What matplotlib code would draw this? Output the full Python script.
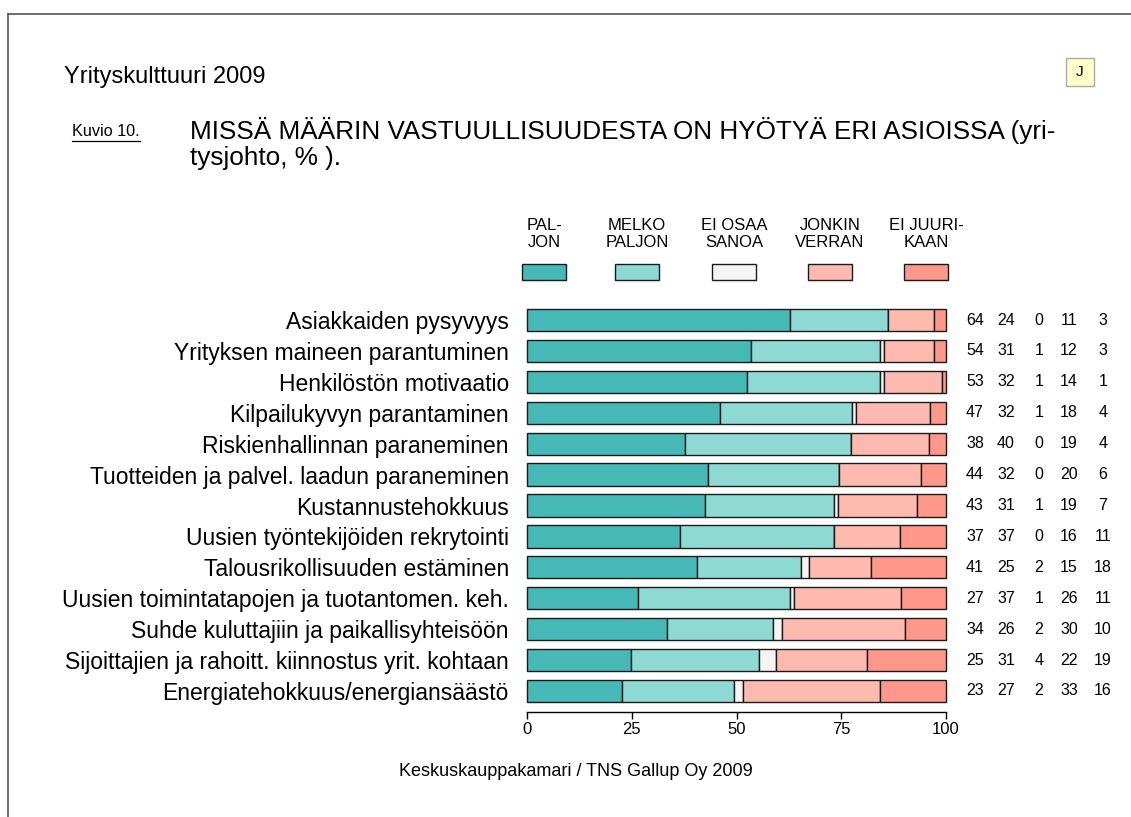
import matplotlib
matplotlib.use("Agg")
import matplotlib.pyplot as plt
from matplotlib.patches import Rectangle
from matplotlib.lines import Line2D

plt.rcParams['font.family'] = ['Liberation Sans', 'DejaVu Sans']

# Aineisto (%)
categories = [
    "Asiakkaiden pysyvyys",
    "Yrityksen maineen parantuminen",
    "Henkilöstön motivaatio",
    "Kilpailukyvyn parantaminen",
    "Riskienhallinnan paraneminen",
    "Tuotteiden ja palvel. laadun paraneminen",
    "Kustannustehokkuus",
    "Uusien työntekijöiden rekrytointi",
    "Talousrikollisuuden estäminen",
    "Uusien toimintatapojen ja tuotantomen. keh.",
    "Suhde kuluttajiin ja paikallisyhteisöön",
    "Sijoittajien ja rahoitt. kiinnostus yrit. kohtaan",
    "Energiatehokkuus/energiansäästö",
]
paljon = [64, 54, 53, 47, 38, 44, 43, 37, 41, 27, 34, 25, 23]
melko_paljon = [24, 31, 32, 32, 40, 32, 31, 37, 25, 37, 26, 31, 27]
ei_osaa = [0, 1, 1, 1, 0, 0, 1, 0, 2, 1, 2, 4, 2]
jonkin_verran = [11, 12, 14, 18, 19, 20, 19, 16, 15, 26, 30, 22, 33]
ei_juurikaan = [3, 3, 1, 4, 4, 6, 7, 11, 18, 11, 10, 19, 16]

series = [paljon, melko_paljon, ei_osaa, jonkin_verran, ei_juurikaan]
legend_labels = ["PAL-\nJON", "MELKO\nPALJON", "EI OSAA\nSANOA", "JONKIN\nVERRAN", "EI JUURI-\nKAAN"]
colors = ["#46B9B6", "#8ED9D4", "#F4F4F4", "#FFBAAF", "#FF978A"]
xticks = [0, 25, 50, 75, 100]

W, H = 1131, 817
fig = plt.figure(figsize=(W / 100, H / 100), dpi=100)


def fx(px):
    return px / W


def fy(py):
    return 1 - py / H


# kehys
fig.add_artist(Line2D([fx(8), fx(1131)], [fy(14), fy(14)], color="#555555", lw=1.2))
fig.add_artist(Line2D([fx(8), fx(8)], [fy(14), fy(817)], color="#555555", lw=1.2))

fig.text(fx(64), fy(77), "Yrityskulttuuri 2009", fontsize=17, va="center")
fig.text(fx(72), fy(131), "Kuvio 10.", fontsize=11.7, va="center")
fig.add_artist(Line2D([fx(72), fx(140)], [fy(141), fy(141)], color="black", lw=0.9))
fig.text(fx(190), fy(130), "MISSÄ MÄÄRIN VASTUULLISUUDESTA ON HYÖTYÄ ERI ASIOISSA (yri-",
         fontsize=18.8, va="center")
fig.text(fx(190), fy(158), "tysjohto, % ).", fontsize=18.8, va="center")

# J-laatikko
fig.add_artist(Rectangle((fx(1066), fy(86)), 28 / W, 28 / H, transform=fig.transFigure,
                         fc="#FFFFC8", ec="#AAAAAA", lw=1))
fig.text(fx(1080), fy(72), "J", fontsize=11, ha="center", va="center")

fig.text(fx(576), fy(772), "Keskuskauppakamari / TNS Gallup Oy 2009", fontsize=13,
         ha="center", va="center")

ax = fig.add_axes([fx(527), fy(712), 419 / W, (712 - 301.5) / H])

totals = [sum(v) for v in zip(*series)]
y = list(range(len(categories)))
left = [0.0] * len(categories)
for vals, c in zip(series, colors):
    w = [v / t * 100 for v, t in zip(vals, totals)]
    ax.barh(y, w, left=left, height=0.72, color=c, edgecolor="#1a1a1a",
            linewidth=1, clip_on=False, zorder=3)
    left = [l + wi for l, wi in zip(left, w)]

ax.set_xlim(0, 100)
ax.set_ylim(12.68, -0.6)
ax.set_yticks(y, categories, fontsize=16.5)
ax.tick_params(axis="y", length=0, pad=13)
ax.set_xticks(xticks, [str(t) for t in xticks], fontsize=12)
ax.tick_params(axis="x", length=5, width=1, pad=2.5)
for s in ["top", "right", "left"]:
    ax.spines[s].set_visible(False)
ax.spines["bottom"].set_linewidth(1)

# numerot oikealla
col_x = [975, 1006, 1039, 1069, 1103]
for vals, cx in zip(series, col_x):
    xa = (cx - 527) / 419
    for yi, v in zip(y, vals):
        ax.text(xa, yi, str(v), transform=ax.get_yaxis_transform(), fontsize=11.5,
                ha="center", va="center", clip_on=False)

# selite
leg_x = [544, 637, 734, 830, 926]
for lab, c, cx in zip(legend_labels, colors, leg_x):
    fig.text(fx(cx), fy(234), lab, fontsize=12, ha="center", va="center", linespacing=1.1)
    fig.add_artist(Rectangle((fx(cx - 22), fy(280)), 44 / W, 16 / H, transform=fig.transFigure,
                             fc=c, ec="#1a1a1a", lw=1))

fig.savefig("out.png", dpi=100)
